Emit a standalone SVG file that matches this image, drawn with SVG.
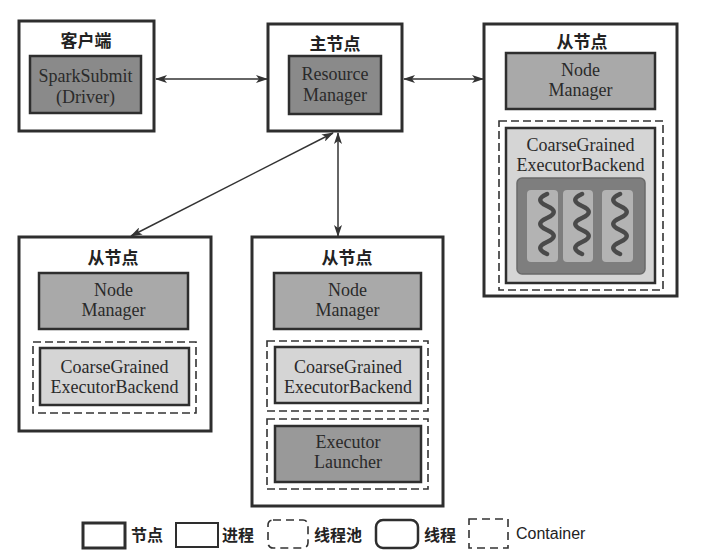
<svg xmlns="http://www.w3.org/2000/svg" width="716" height="560" viewBox="0 0 716 560">
<defs>
<style>
.node{fill:#fff;stroke:#2e2e2e;stroke-width:3}
.proc{stroke:#2e2e2e;stroke-width:2.5}
.dark{fill:#8a8a8a}
.nm{fill:#a9a9a9}
.cg{fill:#d5d5d5}
.el{fill:#999}
.cont{fill:none;stroke:#333;stroke-width:1.6;stroke-dasharray:8 4}
.pool{fill:#7e7e7e;stroke:#6a6a6a;stroke-width:1.5}
.thread{fill:#b3b3b3}
.sq{fill:none;stroke:#4a4a4a;stroke-width:4.5;stroke-linecap:round}
.title{font-family:"Noto Sans CJK SC",sans-serif;font-weight:bold;font-size:17px;fill:#222;text-anchor:middle}
.lbl{font-family:"Liberation Serif",serif;font-size:18px;fill:#2a2a2a;text-anchor:middle}
.leg{font-family:"Noto Sans CJK SC",sans-serif;font-weight:bold;font-size:16px;fill:#222}
.legE{font-family:"Liberation Sans",sans-serif;font-size:16px;fill:#222}
.conn{stroke:#333;stroke-width:1.5;fill:none;marker-start:url(#ah);marker-end:url(#ah)}
</style>
<marker id="ah" viewBox="0 0 12 8" refX="11" refY="4" markerWidth="12" markerHeight="8" markerUnits="userSpaceOnUse" orient="auto-start-reverse">
<path d="M0,0 L12,4 L0,8 L3,4 Z" fill="#333"/>
</marker>
</defs>

<g id="client">
<rect class="node" x="19" y="21" width="135" height="110"/>
<text class="title" x="86" y="47">客户端</text>
<rect class="proc dark" x="30" y="56" width="111" height="57"/>
<text class="lbl" x="85.5" y="82">SparkSubmit</text>
<text class="lbl" x="85.5" y="103">(Driver)</text>
</g>

<g id="master">
<rect class="node" x="268" y="24" width="134" height="107"/>
<text class="title" x="335" y="50">主节点</text>
<rect class="proc dark" x="289" y="56" width="92" height="58"/>
<text class="lbl" x="335" y="80">Resource</text>
<text class="lbl" x="335" y="101">Manager</text>
</g>

<g id="slave-right">
<rect class="node" x="484" y="24" width="193" height="272"/>
<text class="title" x="582" y="48">从节点</text>
<rect class="proc nm" x="506" y="53" width="149" height="56"/>
<text class="lbl" x="580.5" y="76">Node</text>
<text class="lbl" x="580.5" y="96">Manager</text>
<rect class="cont" x="499" y="121" width="164" height="169"/>
<rect class="proc cg" x="506" y="128" width="149" height="155"/>
<text class="lbl" x="580.5" y="151">CoarseGrained</text>
<text class="lbl" x="580.5" y="171">ExecutorBackend</text>
<rect class="pool" x="517" y="178" width="128" height="96" rx="5"/>
<rect class="thread" x="527" y="190" width="31" height="72" rx="4"/>
<rect class="thread" x="563" y="190" width="30" height="72" rx="4"/>
<rect class="thread" x="602" y="190" width="31" height="72" rx="4"/>
<path class="sq" d="M547,194 c-9,4 -9,8 0,12 s9,8 0,12 s-9,8 0,12 s9,8 0,12 s-9,8 0,12"/>
<path class="sq" d="M582,194 c-9,4 -9,8 0,12 s9,8 0,12 s-9,8 0,12 s9,8 0,12 s-9,8 0,12"/>
<path class="sq" d="M620,194 c-9,4 -9,8 0,12 s9,8 0,12 s-9,8 0,12 s9,8 0,12 s-9,8 0,12"/>
</g>

<g id="slave-left">
<rect class="node" x="19" y="237" width="192" height="194"/>
<text class="title" x="113" y="264">从节点</text>
<rect class="proc nm" x="39" y="273" width="149" height="56"/>
<text class="lbl" x="113.5" y="296">Node</text>
<text class="lbl" x="113.5" y="316">Manager</text>
<rect class="cont" x="33" y="342" width="163" height="71"/>
<rect class="proc cg" x="40" y="348" width="149" height="57"/>
<text class="lbl" x="114.5" y="373">CoarseGrained</text>
<text class="lbl" x="114.5" y="393">ExecutorBackend</text>
</g>

<g id="slave-middle">
<rect class="node" x="252" y="237" width="191" height="269"/>
<text class="title" x="347" y="264">从节点</text>
<rect class="proc nm" x="274" y="273" width="147" height="56"/>
<text class="lbl" x="347.5" y="296">Node</text>
<text class="lbl" x="347.5" y="316">Manager</text>
<rect class="cont" x="267" y="341" width="161" height="70"/>
<rect class="proc cg" x="275" y="347" width="146" height="56"/>
<text class="lbl" x="348" y="373">CoarseGrained</text>
<text class="lbl" x="348" y="393">ExecutorBackend</text>
<rect class="cont" x="267" y="419" width="161" height="70"/>
<rect class="proc el" x="275" y="426" width="146" height="56"/>
<text class="lbl" x="348" y="448">Executor</text>
<text class="lbl" x="348" y="468">Launcher</text>
</g>

<g id="connectors">
<line class="conn" x1="156" y1="79" x2="267" y2="79"/>
<line class="conn" x1="404" y1="79" x2="483" y2="79"/>
<line class="conn" x1="338" y1="133" x2="338" y2="236"/>
<line class="conn" x1="333" y1="133" x2="131" y2="236"/>
</g>

<g id="legend">
<rect x="83" y="523" width="42" height="25" fill="#fff" stroke="#2e2e2e" stroke-width="3"/>
<text class="leg" x="131" y="541">节点</text>
<rect x="176" y="523" width="42" height="24" fill="#fff" stroke="#2e2e2e" stroke-width="2"/>
<text class="leg" x="222" y="541">进程</text>
<rect x="268" y="520" width="40" height="28" rx="5" fill="none" stroke="#333" stroke-width="1.6" stroke-dasharray="8 5"/>
<text class="leg" x="314" y="541">线程池</text>
<rect x="376" y="520" width="42" height="28" rx="7" fill="#fff" stroke="#2e2e2e" stroke-width="2.5"/>
<text class="leg" x="424" y="541">线程</text>
<rect x="469" y="519" width="39" height="29" fill="none" stroke="#333" stroke-width="1.6" stroke-dasharray="8 5"/>
<text class="legE" x="516" y="539">Container</text>
</g>
</svg>
